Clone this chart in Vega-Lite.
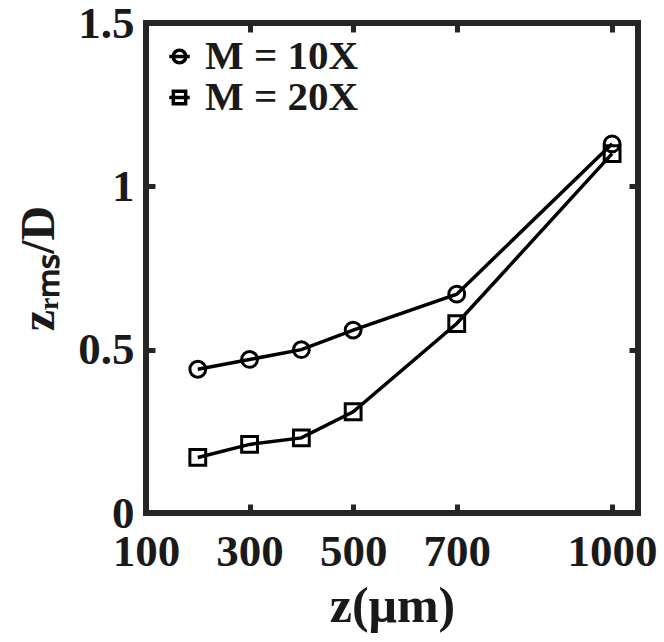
{
  "$schema": "https://vega.github.io/schema/vega-lite/v6.json",
  "autosize": "none",
  "padding": {"left": 146, "top": 23, "right": 26, "bottom": 129},
  "width": 492,
  "height": 490,
  "background": "white",
  "config": {
    "view": {"stroke": "#262626", "strokeWidth": 6},
    "axis": {
      "grid": false,
      "domain": false,
      "tickColor": "#262626",
      "tickWidth": 5,
      "labelFont": "Liberation Serif",
      "labelFontWeight": "bold",
      "labelFontSize": 45,
      "labelColor": "#1a1a1a",
      "labelFlush": false,
      "titleFont": "Liberation Serif",
      "titleFontWeight": "bold",
      "titleFontSize": 50,
      "titleColor": "#1a1a1a"
    },
    "legend": {
      "labelFont": "Liberation Serif",
      "labelFontWeight": "bold",
      "labelFontSize": 41,
      "labelColor": "#1a1a1a"
    }
  },
  "data": {
    "values": [
      {"z": 200, "v": 0.44, "series": "M = 10X"},
      {"z": 300, "v": 0.47, "series": "M = 10X"},
      {"z": 400, "v": 0.50, "series": "M = 10X"},
      {"z": 500, "v": 0.56, "series": "M = 10X"},
      {"z": 700, "v": 0.67, "series": "M = 10X"},
      {"z": 1000, "v": 1.13, "series": "M = 10X"},
      {"z": 200, "v": 0.17, "series": "M = 20X"},
      {"z": 300, "v": 0.21, "series": "M = 20X"},
      {"z": 400, "v": 0.23, "series": "M = 20X"},
      {"z": 500, "v": 0.31, "series": "M = 20X"},
      {"z": 700, "v": 0.58, "series": "M = 20X"},
      {"z": 1000, "v": 1.10, "series": "M = 20X"}
    ]
  },
  "resolve": {"scale": {"shape": "independent"}, "legend": {"shape": "independent"}},
  "layer": [
    {
      "mark": {"type": "line", "color": "black", "strokeWidth": 3.5},
      "encoding": {
        "x": {
          "field": "z", "type": "quantitative",
          "scale": {"domain": [100, 1050], "nice": false, "zero": false},
          "axis": {"orient": "bottom", "values": [100, 300, 500, 700, 1000], "format": "d", "tickSize": -9, "labelPadding": 25, "title": "z(μm)", "titlePadding": 7}
        },
        "y": {
          "field": "v", "type": "quantitative",
          "scale": {"domain": [0, 1.5], "nice": false},
          "axis": {"orient": "left", "values": [0, 0.5, 1, 1.5], "format": "~g", "tickSize": -9, "labelPadding": 21, "title": "zᵣₘₛ/D", "titleFontSize": 48, "titlePadding": 14}
        },
        "detail": {"field": "series"}
      }
    },
    {
      "mark": {"type": "point", "filled": false, "stroke": "black", "strokeWidth": 3, "size": 250, "opacity": 1},
      "encoding": {
        "x": {
          "field": "z", "type": "quantitative",
          "axis": {"orient": "top", "values": [100, 300, 500, 700, 1000], "tickSize": -9, "labels": false, "title": null}
        },
        "y": {
          "field": "v", "type": "quantitative",
          "axis": {"orient": "right", "values": [0, 0.5, 1, 1.5], "tickSize": -9, "labels": false, "title": null}
        },
        "shape": {
          "field": "series", "type": "nominal",
          "scale": {"domain": ["M = 10X", "M = 20X"], "range": ["circle", "square"]},
          "legend": null
        }
      }
    },
    {
      "mark": {"type": "point", "filled": false, "stroke": "black", "strokeWidth": 3, "size": 250, "opacity": 0},
      "encoding": {
        "x": {"field": "z", "type": "quantitative", "axis": null},
        "y": {"field": "v", "type": "quantitative", "axis": null},
        "shape": {
          "field": "series", "type": "nominal",
          "scale": {"domain": ["M = 10X", "M = 20X"], "range": ["M-1,0H1M0.62,0A0.62,0.62,0,1,1,-0.62,0A0.62,0.62,0,1,1,0.62,0Z", "M-1,0H1M-0.6,-0.6H0.6V0.6H-0.6Z"]},
          "legend": {
            "title": null,
            "orient": "top-left",
            "offset": 13,
            "padding": 0,
            "rowPadding": -5,
            "labelOffset": 5,
            "symbolSize": 420,
            "symbolStrokeWidth": 3.5,
            "symbolStrokeColor": "black",
            "symbolFillColor": "transparent",
            "symbolOpacity": 1
          }
        }
      }
    }
  ]
}
